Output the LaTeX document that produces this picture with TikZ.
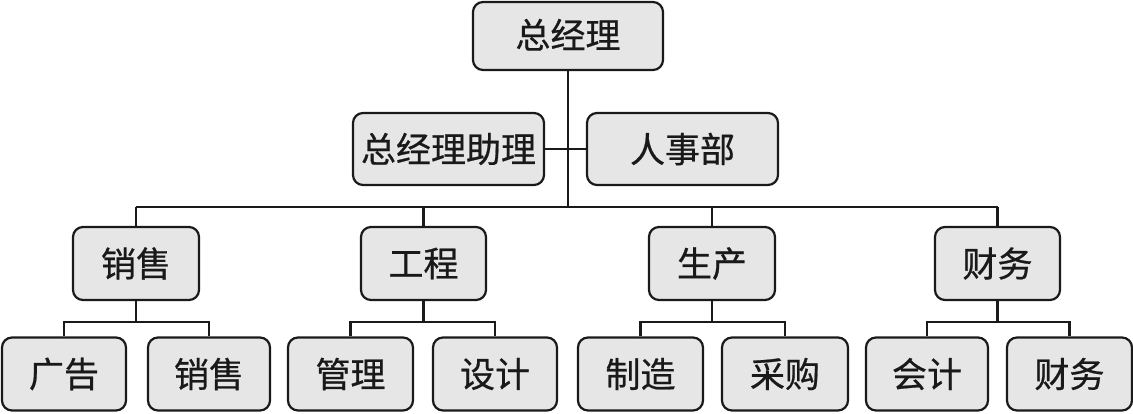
\documentclass[tikz,border=0pt]{standalone}
\usepackage{fontspec}
\newfontfamily\cjk[FakeBold=0.6]{Noto Sans CJK SC}
\definecolor{boxfill}{HTML}{E6E6E6}
\definecolor{lineclr}{HTML}{1A1A1A}
\begin{document}
\begin{tikzpicture}[x=1pt,y=-1pt,
  orgbox/.style={draw=lineclr, fill=boxfill, line width=2.2pt, rounded corners=10pt,
    inner sep=0pt, font=\cjk\fontsize{35}{35}\selectfont, text=black!90},
  link/.style={draw=lineclr, line width=2.2pt}]
\useasboundingbox (0,0) rectangle (1133,413);
% top
\node[orgbox, minimum width=190pt, minimum height=68pt] (gm) at (568,36) {\raisebox{5pt}{总经理}};
\node[orgbox, minimum width=191pt, minimum height=72pt] (asst) at (448.5,149) {总经理助理};
\node[orgbox, minimum width=191pt, minimum height=72pt] (hr) at (682.5,149) {人事部};
% level 2
\node[orgbox, minimum width=126pt, minimum height=73pt] (xs) at (136,263.5) {销售};
\node[orgbox, minimum width=125pt, minimum height=73pt] (gc) at (423.5,263.5) {工程};
\node[orgbox, minimum width=126pt, minimum height=73pt] (sc) at (712,263.5) {生产};
\node[orgbox, minimum width=125pt, minimum height=73pt] (cw) at (997.5,263.5) {财务};
% level 3
\node[orgbox, minimum width=124pt, minimum height=73pt] (ad) at (64,374) {广告};
\node[orgbox, minimum width=122pt, minimum height=73pt] (xs2) at (209,374) {销售};
\node[orgbox, minimum width=125pt, minimum height=73pt] (gl) at (350.5,374) {管理};
\node[orgbox, minimum width=124pt, minimum height=73pt] (sj) at (495,374) {设计};
\node[orgbox, minimum width=125pt, minimum height=73pt] (zz) at (640.5,374) {制造};
\node[orgbox, minimum width=126pt, minimum height=73pt] (cg) at (785,374) {采购};
\node[orgbox, minimum width=122pt, minimum height=73pt] (kj) at (927,374) {会计};
\node[orgbox, minimum width=125pt, minimum height=73pt] (cw2) at (1069.5,374) {财务};
% bus coordinates
\coordinate (bus) at (0,207);
\coordinate (sub) at (0,322);
% connectors
\draw[link] (gm.south) -- (gm.south |- bus);
\draw[link] (asst.east) -- (hr.west);
\draw[link] (xs.north |- bus) -- (cw.north |- bus);
\foreach \n in {xs,gc,sc,cw}{
  \draw[link] (\n.north) -- (\n.north |- bus);
}
\foreach \p/\a/\b in {xs/ad/xs2, gc/gl/sj, sc/zz/cg, cw/kj/cw2}{
  \draw[link] (\p.south) -- (\p.south |- sub);
  \draw[link] (\a.north) |- (\b.north |- sub) -- (\b.north);
}
\end{tikzpicture}
\end{document}
